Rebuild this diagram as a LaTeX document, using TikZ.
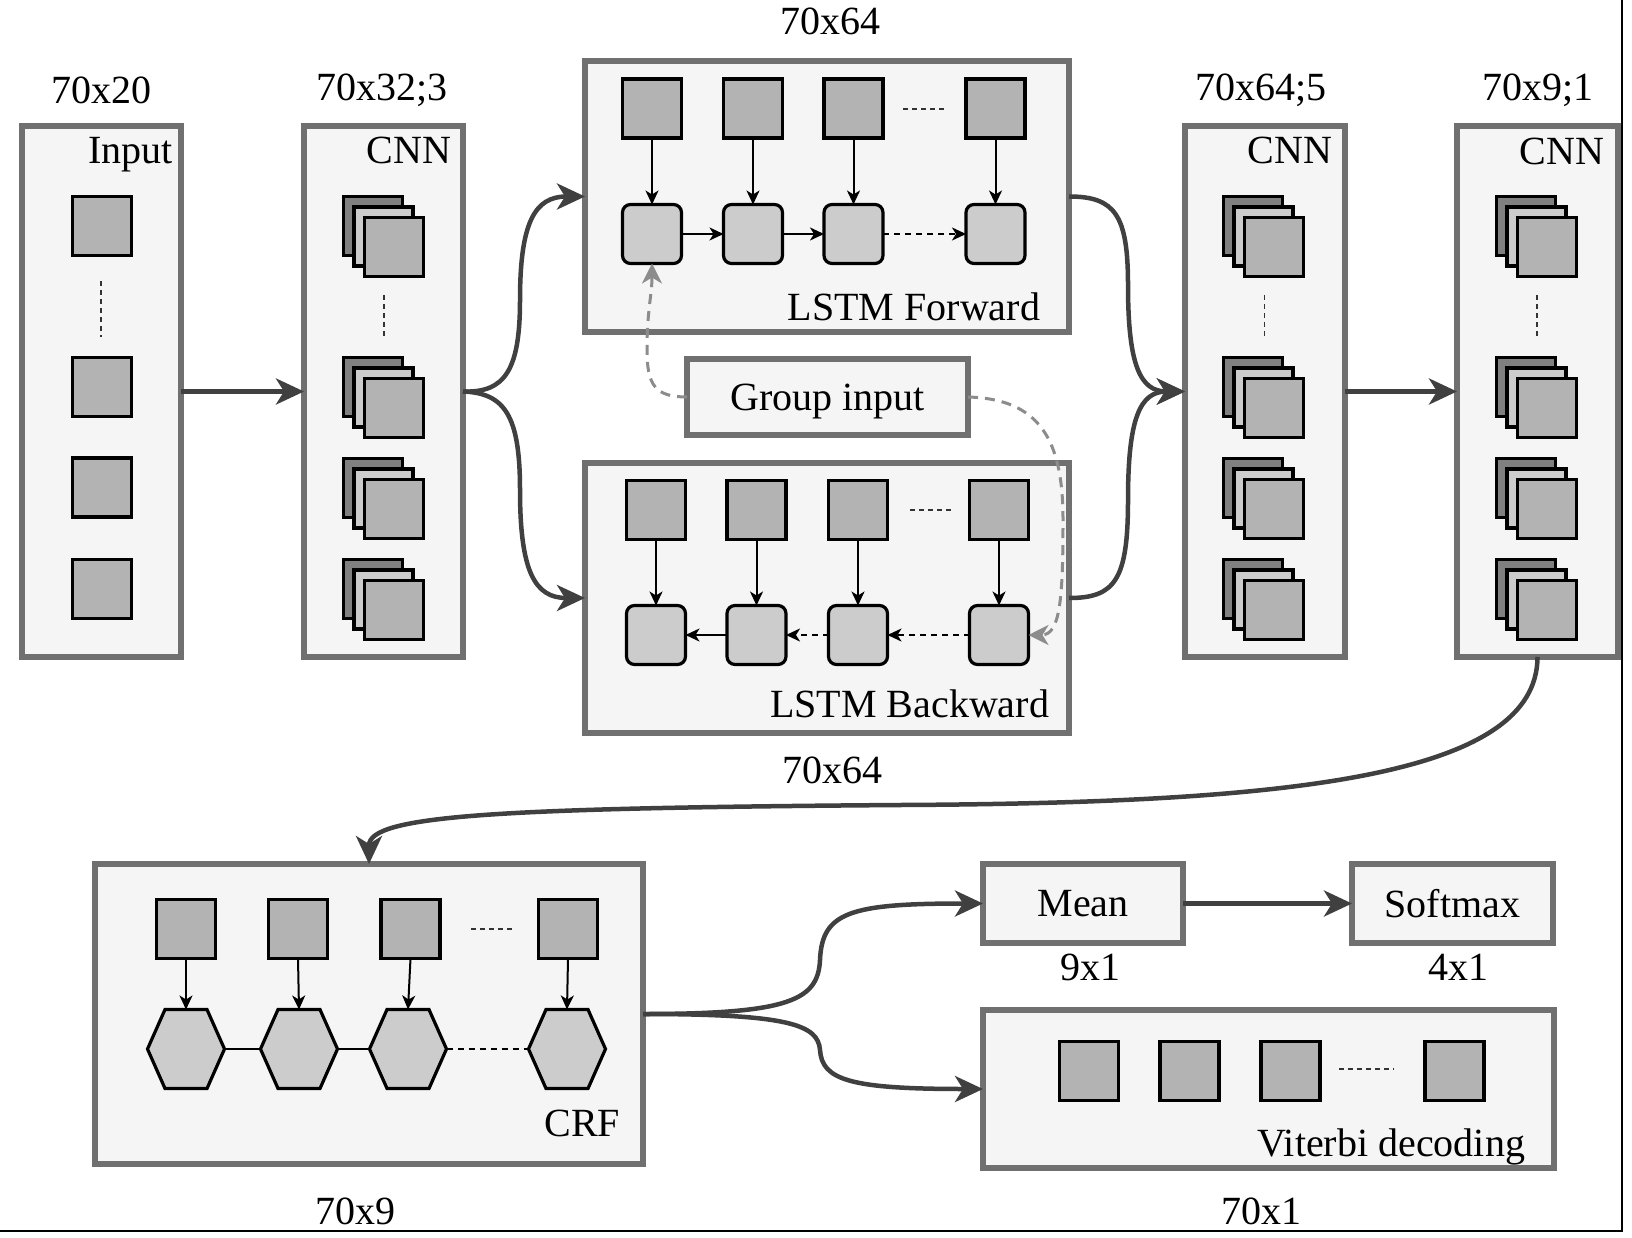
\documentclass[tikz,border=0pt]{standalone}
\usepackage{fontspec}
\setmainfont{Liberation Serif}
\usetikzlibrary{arrows.meta,calc}
\definecolor{boxgray}{HTML}{707070}
\definecolor{boxfill}{HTML}{F5F5F5}
\definecolor{sqfill}{HTML}{B3B3B3}
\definecolor{rfill}{HTML}{CCCCCC}
\definecolor{backfill}{HTML}{808080}
\definecolor{conn}{HTML}{404040}
\definecolor{grayd}{HTML}{8C8C8C}
\newcommand\cnnstack[3]{%
  \node[sq, fill=backfill] (#1b) at ({#2-21},{#3-21}) {};
  \node[sq, fill=rfill] (#1m) at ({#2-10.5},{#3-10.5}) {};
  \node[sq] (#1) at (#2,#3) {};
}
\newcommand\hexat[3]{%
  \node[hexbox] (#1) at (#2,#3) {};
  \draw[hexst] (#1.center) ++(-38.5,0) -- ++(17.5,-39.5) -- ++(42,0) -- ++(17.5,39.5) -- ++(-17.5,39.5) -- ++(-42,0) -- cycle;
}
\begin{document}
\begin{tikzpicture}[x=1pt,y=-1pt,
  bigbox/.style={draw=boxgray, line width=5.5pt, fill=boxfill, inner sep=0pt, outer sep=0pt},
  sq/.style={draw=black, line width=3.2pt, fill=sqfill, minimum width=59pt, minimum height=59pt, inner sep=0pt, outer sep=0pt},
  rsq/.style={sq, fill=rfill, rounded corners=8pt},
  lbl/.style={font=\fontsize{40}{48}\selectfont, inner sep=0pt, outer sep=0pt},
  flow/.style={draw=conn, line width=4.5pt, -{Stealth[length=28pt,width=26pt,inset=8pt]}},
  thinarr/.style={draw=black, line width=2pt, -{Stealth[length=14pt,width=13pt,inset=4pt]}},
  gdash/.style={draw=grayd, line width=3pt, dash pattern=on 10pt off 7pt, -{Stealth[length=20pt,width=20pt,inset=6pt]}},
  dots/.style={draw=black!80, line width=1.3pt, dash pattern=on 5pt off 4pt},
  thindash/.style={dash pattern=on 6pt off 5pt},
  hexbox/.style={minimum width=77pt, minimum height=79pt, inner sep=0pt, outer sep=0pt},
  hexst/.style={draw=black, line width=3.2pt, fill=rfill, line join=miter},
]
\fill[white] (0,0) rectangle (1632,1238);
\useasboundingbox (0,0) rectangle (1632,1238);
\draw[line width=1.5pt] (1622,0) -- (1622,1231) -- (0,1231);

% big boxes
\node[bigbox, minimum width=159pt, minimum height=531pt] (inbox) at (101.5,391.5) {};
\node[bigbox, minimum width=159pt, minimum height=531pt] (cnn1) at (383.5,391.5) {};
\node[bigbox, minimum width=484pt, minimum height=271pt] (fwd) at (827,196.5) {};
\node[bigbox, minimum width=281pt, minimum height=76pt, lbl, text depth=0pt] (grp) at (827.5,397) {Group input};
\node[bigbox, minimum width=484pt, minimum height=270pt] (bwd) at (827,598) {};
\node[bigbox, minimum width=160pt, minimum height=531pt] (cnn2) at (1265,391.5) {};
\node[bigbox, minimum width=161pt, minimum height=531pt] (cnn3) at (1537.5,391.5) {};
\node[bigbox, minimum width=548pt, minimum height=300pt] (crf) at (369,1014) {};
\node[bigbox, minimum width=200pt, minimum height=79pt, lbl] (mean) at (1083,903.5) {Mean};
\node[bigbox, minimum width=201pt, minimum height=79pt, lbl] (soft) at (1452.5,903.5) {Softmax};
\node[bigbox, minimum width=571pt, minimum height=158pt] (vit) at (1268.5,1089) {};

% labels
\node[lbl] (l1) at (101,90) {70x20};
\node[lbl] (l2) at (382,90) {70x32;3};
\node[lbl] (l3) at (830,21) {70x64};
\node[lbl] (l4) at (1261,90) {70x64;5};
\node[lbl] (l5) at (1538,90) {70x9;1};
\node[lbl] (l6) at (832,770) {70x64};
\node[lbl] (l7) at (355,1211) {70x9};
\node[lbl] (l8) at (1090,967) {9x1};
\node[lbl] (l9) at (1458,967) {4x1};
\node[lbl] (l10) at (1261,1211) {70x1};
\node[lbl, anchor=base east] (tin) at (173,164) {Input};
\node[lbl, anchor=base east] (tc1) at (451,164) {CNN};
\node[lbl, anchor=base east] (tc2) at (1332,164) {CNN};
\node[lbl, anchor=base east] (tc3) at (1604,165) {CNN};
\node[lbl, anchor=base east] (tfw) at (1040,320) {LSTM Forward};
\node[lbl, anchor=base east] (tbw) at (1049,717) {LSTM Backward};
\node[lbl, anchor=base east] (tcrf) at (620,1136) {CRF};
\node[lbl, anchor=base east] (tvit) at (1525,1156) {Viterbi decoding};

% input squares
\node[sq] (i1) at (102,226) {};
\node[sq] (i2) at (102,387) {};
\node[sq] (i3) at (102,487.5) {};
\node[sq] (i4) at (102,589) {};
\coordinate (id1) at (101,281); \coordinate (id2) at (101,337);
\draw[dots] (id1) -- (id2);

% CNN stacks
\cnnstack{a1}{394}{247}
\cnnstack{a2}{394}{408}
\cnnstack{a3}{394}{509}
\cnnstack{a4}{394}{610}
\coordinate (ad1) at (384,295); \coordinate (ad2) at (384,337);
\draw[dots] (ad1) -- (ad2);
\cnnstack{b1}{1274}{247}
\cnnstack{b2}{1274}{408}
\cnnstack{b3}{1274}{509}
\cnnstack{b4}{1274}{610}
\coordinate (bd1) at (1264.5,295); \coordinate (bd2) at (1264.5,337);
\draw[dots] (bd1) -- (bd2);
\cnnstack{c1}{1547}{247}
\cnnstack{c2}{1547}{408}
\cnnstack{c3}{1547}{509}
\cnnstack{c4}{1547}{610}
\coordinate (cd1) at (1537,295); \coordinate (cd2) at (1537,337);
\draw[dots] (cd1) -- (cd2);

% LSTM forward
\node[sq] (fs1) at (652,108.5) {};
\node[sq] (fs2) at (753,108.5) {};
\node[sq] (fs3) at (853.5,108.5) {};
\node[sq] (fs4) at (995.5,108.5) {};
\node[rsq] (fr1) at (652,234) {};
\node[rsq] (fr2) at (753,234) {};
\node[rsq] (fr3) at (853.5,234) {};
\node[rsq] (fr4) at (995.5,234) {};
\coordinate (fd1) at (903,109); \coordinate (fd2) at (946,109);
\draw[dots] (fd1) -- (fd2);
\foreach \k in {1,2,3,4} \draw[thinarr] (fs\k.south) -- (fr\k.north);
\draw[thinarr] (fr1.east) -- (fr2.west);
\draw[thinarr] (fr2.east) -- (fr3.west);
\draw[thinarr, thindash] (fr3.east) -- (fr4.west);

% LSTM backward
\node[sq] (bs1) at (656,510) {};
\node[sq] (bs2) at (756.5,510) {};
\node[sq] (bs3) at (858,510) {};
\node[sq] (bs4) at (999,510) {};
\node[rsq] (br1) at (656,635) {};
\node[rsq] (br2) at (756.5,635) {};
\node[rsq] (br3) at (858,635) {};
\node[rsq] (br4) at (999,635) {};
\coordinate (bd3) at (910,510); \coordinate (bd4) at (953,510);
\draw[dots] (bd3) -- (bd4);
\foreach \k in {1,2,3,4} \draw[thinarr] (bs\k.south) -- (br\k.north);
\draw[thinarr] (br2.west) -- (br1.east);
\draw[thinarr, thindash] (br3.west) -- (br2.east);
\draw[thinarr, thindash] (br4.west) -- (br3.east);

% group input dashed arrows
\draw[gdash] (grp.west) .. controls (655,397) and (647,385) .. (647,350) .. controls (647,310) and (652,295) .. (fr1.south);
\draw[gdash] (grp.east) .. controls (1040,399) and (1063,440) .. (1063,520) .. controls (1063,600) and (1060,635) .. (br4.east);

% CRF
\node[sq] (cs1) at (186,929) {};
\node[sq] (cs2) at (298,929) {};
\node[sq] (cs3) at (410.5,929) {};
\node[sq] (cs4) at (568,929) {};
\coordinate (cdd1) at (471,929); \coordinate (cdd2) at (512,929);
\draw[dots] (cdd1) -- (cdd2);
\hexat{h1}{186}{1049}
\hexat{h2}{299}{1049}
\hexat{h3}{408}{1049}
\hexat{h4}{567}{1049}
\foreach \k in {1,2,3,4} \draw[thinarr] (cs\k.south) -- (h\k.north);
\draw[draw=black, line width=2pt] (h1.east) -- (h2.west);
\draw[draw=black, line width=2pt] (h2.east) -- (h3.west);
\draw[draw=black, line width=2pt, thindash] (h3.east) -- (h4.west);

% Viterbi
\node[sq] (v1) at (1089,1071) {};
\node[sq] (v2) at (1189.5,1071) {};
\node[sq] (v3) at (1290.5,1071) {};
\node[sq] (v4) at (1454.5,1071) {};
\coordinate (vd1) at (1339,1069); \coordinate (vd2) at (1394,1069);
\draw[dots] (vd1) -- (vd2);

% main flow
\draw[flow] (inbox.east) -- (cnn1.west);
\draw[flow] (cnn1.east) .. controls (505,393) and (520,370) .. (520,300) .. controls (520,222) and (535,196.5) .. (fwd.west);
\draw[flow] (cnn1.east) .. controls (505,393) and (520,416) .. (520,490) .. controls (520,572) and (535,598) .. (bwd.west);
\draw[flow] (fwd.east) .. controls (1115,196.5) and (1128,215) .. (1128,285) .. controls (1128,365) and (1140,391.5) .. (cnn2.west);
\draw[flow] (bwd.east) .. controls (1115,598) and (1128,580) .. (1128,500) .. controls (1128,418) and (1140,391.5) .. (cnn2.west);
\draw[flow] (cnn2.east) -- (cnn3.west);
\draw[flow] (cnn3.south) .. controls (1537,775) and (1300,803) .. (900,805) .. controls (500,808) and (369,815) .. (crf.north);
\draw[flow] (crf.east) .. controls (790,1014) and (818,1000) .. (820,960) .. controls (822,912) and (850,903.5) .. (mean.west);
\draw[flow] (crf.east) .. controls (790,1014) and (818,1025) .. (820,1050) .. controls (822,1080) and (850,1089) .. (vit.west);
\draw[flow] (mean.east) -- (soft.west);
\end{tikzpicture}
\end{document}
